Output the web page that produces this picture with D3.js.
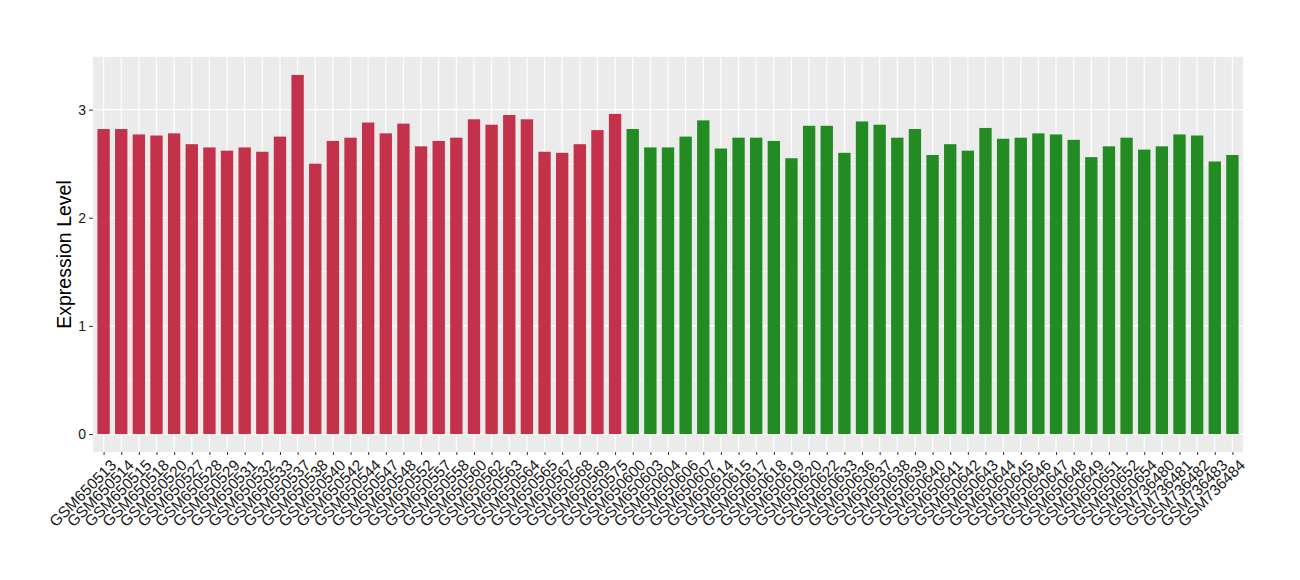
<!DOCTYPE html>
<html>
<head>
<meta charset="utf-8">
<script src="https://cdn.jsdelivr.net/npm/d3@7"></script>
<style>
  body { margin: 0; background: #fff; }
  text { font-family: "Liberation Sans", Arial, sans-serif; }
</style>
</head>
<body>
<script>
// Proben (Gruppe 1 rot, Gruppe 2 grün)
var samplesA = ["GSM650513","GSM650514","GSM650515","GSM650518","GSM650520","GSM650527","GSM650528","GSM650529","GSM650531","GSM650532",
  "GSM650533","GSM650537","GSM650538","GSM650540","GSM650542","GSM650544","GSM650547","GSM650548","GSM650552","GSM650557",
  "GSM650558","GSM650560","GSM650562","GSM650563","GSM650564","GSM650565","GSM650567","GSM650568","GSM650569","GSM650575"];
var valuesA = [2.82,2.82,2.77,2.76,2.78,2.68,2.65,2.62,2.65,2.61,
  2.75,3.32,2.50,2.71,2.74,2.88,2.78,2.87,2.66,2.71,
  2.74,2.91,2.86,2.95,2.91,2.61,2.60,2.68,2.81,2.96];

var samplesB = ["GSM650600","GSM650603","GSM650604","GSM650606","GSM650607","GSM650614","GSM650615","GSM650617","GSM650618","GSM650619",
  "GSM650620","GSM650622","GSM650633","GSM650636","GSM650637","GSM650638","GSM650639","GSM650640","GSM650641","GSM650642",
  "GSM650643","GSM650644","GSM650645","GSM650646","GSM650647","GSM650648","GSM650649","GSM650651","GSM650652","GSM650654",
  "GSM736480","GSM736481","GSM736482","GSM736483","GSM736484"];
var valuesB = [2.82,2.65,2.65,2.75,2.90,2.64,2.74,2.74,2.71,2.55,
  2.85,2.85,2.60,2.89,2.86,2.74,2.82,2.58,2.68,2.62,
  2.83,2.73,2.74,2.78,2.77,2.72,2.56,2.66,2.74,2.63,
  2.66,2.77,2.76,2.52,2.58];

var yTicks = [0, 1, 2, 3];
var yMinor = [0.5, 1.5, 2.5];
var colorA = "#c3314a", colorB = "#228b22";

var data = samplesA.map((s, i) => ({name: s, value: valuesA[i], color: colorA}))
  .concat(samplesB.map((s, i) => ({name: s, value: valuesB[i], color: colorB})));

//Rand
var W = 1300, H = 580;
var margin = {top: 57, right: 57, bottom: 128, left: 93};
var width = W - margin.left - margin.right, height = H - margin.top - margin.bottom;

var svg = d3.select("body").append("svg")
    .attr("width", W).attr("height", H);
var g = svg.append("g").attr("transform", "translate(" + margin.left + "," + margin.top + ")");

// ggplot-artige Ausdehnung
var n = data.length;
var maxV = d3.max(data, d => d.value);
var xScale = d3.scaleLinear().domain([0.4, n + 0.6]).range([0, width]);
var yScale = d3.scaleLinear().domain([-0.05 * maxV, maxV * 1.05]).range([height, 0]);
var bw = xScale(1.7) - xScale(1);

// Panel
g.append("rect").attr("width", width).attr("height", height).attr("fill", "#ebebeb");

g.selectAll(".minor").data(yMinor).enter().append("line")
    .attr("x1", 0).attr("x2", width)
    .attr("y1", d => yScale(d)).attr("y2", d => yScale(d))
    .attr("stroke", "#fff").attr("stroke-width", 0.6);
g.selectAll(".major").data(yTicks).enter().append("line")
    .attr("x1", 0).attr("x2", width)
    .attr("y1", d => yScale(d)).attr("y2", d => yScale(d))
    .attr("stroke", "#fff").attr("stroke-width", 1.2);
g.selectAll(".vgrid").data(data).enter().append("line")
    .attr("x1", (d, i) => xScale(i + 1)).attr("x2", (d, i) => xScale(i + 1))
    .attr("y1", 0).attr("y2", height)
    .attr("stroke", "#fff").attr("stroke-width", 1.2);

// Balken
g.selectAll(".bar").data(data).enter().append("rect")
    .attr("x", (d, i) => xScale(i + 1) - bw / 2)
    .attr("width", bw)
    .attr("y", d => yScale(d.value))
    .attr("height", d => yScale(0) - yScale(d.value))
    .attr("fill", d => d.color);

// Y Achse
var yAxis = g.append("g")
    .call(d3.axisLeft(yScale).tickValues(yTicks).tickSize(4).tickPadding(3).tickFormat(d3.format("d")));
yAxis.select(".domain").remove();
yAxis.selectAll("line").attr("stroke", "#333");
yAxis.selectAll("text").attr("fill", "#1a1a1a").style("font-size", "14px");

// X Achse
var xAxis = g.append("g").attr("transform", "translate(0," + height + ")")
    .call(d3.axisBottom(xScale).tickValues(d3.range(1, n + 1)).tickSize(3).tickFormat(d => data[d - 1].name));
xAxis.select(".domain").remove();
xAxis.selectAll("line").attr("stroke", "#333");
xAxis.selectAll("text")
    .attr("fill", "#1a1a1a").style("font-size", "15.5px")
    .attr("text-anchor", "end")
    .attr("transform", "translate(5,6) rotate(-45)")
    .attr("y", 0).attr("dy", "0.75em");

// Achsentitel
svg.append("text")
    .attr("transform", "translate(71," + (margin.top + height / 2) + ") rotate(-90)")
    .attr("text-anchor", "middle")
    .style("font-size", "19.5px")
    .attr("fill", "#000")
    .text("Expression Level");
</script>
</body>
</html>
